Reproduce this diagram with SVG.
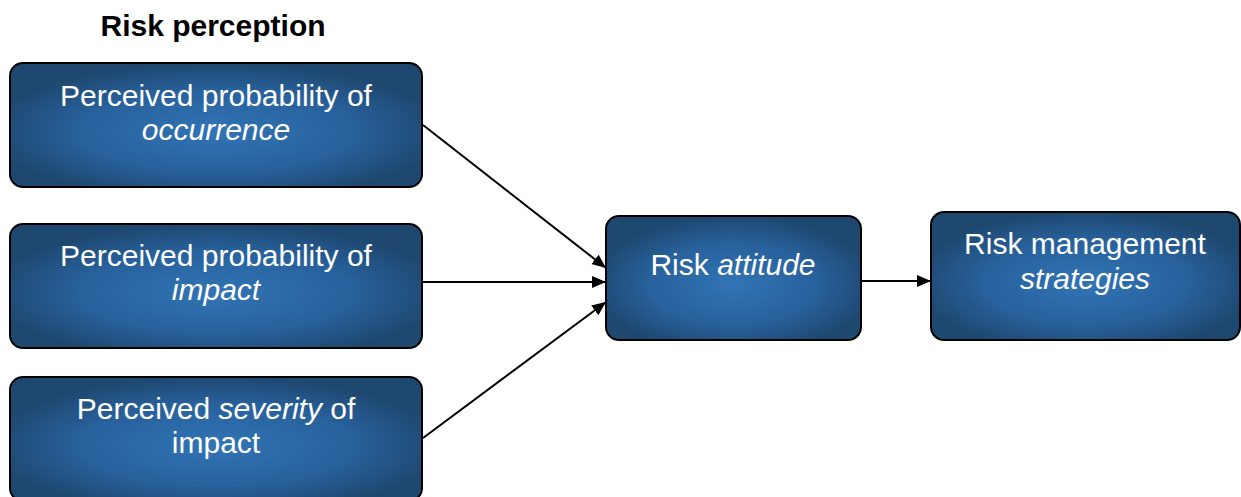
<svg xmlns="http://www.w3.org/2000/svg" width="1241" height="497" viewBox="0 0 1241 497">
<defs>
<radialGradient id="g" cx="0.5" cy="0.55" r="0.55">
<stop offset="0" stop-color="#3174B5"/>
<stop offset="0.6" stop-color="#28619C"/>
<stop offset="1" stop-color="#1E4870"/>
</radialGradient>
<marker id="ah" markerWidth="14" markerHeight="14" refX="14" refY="7" orient="auto" markerUnits="userSpaceOnUse" viewBox="0 0 14 14">
<path d="M0,1 L14,7 L0,13 z" fill="#000"/>
</marker>
<style>
.box{fill:url(#g);stroke:#000;stroke-width:2}
.t{font-family:"Liberation Sans",Arial,sans-serif;font-size:30px;fill:#fff;text-anchor:middle}
.i{font-style:italic}
.c{stroke:#000;stroke-width:2;fill:none;marker-end:url(#ah)}
.h{font-family:"Liberation Sans",Arial,sans-serif;font-size:30px;font-weight:bold;fill:#000;text-anchor:middle}
</style>
</defs>
<text class="h" x="213" y="36">Risk perception</text>
<g id="connectors">
<line class="c" x1="423" y1="125" x2="606" y2="268"/>
<line class="c" x1="423" y1="282" x2="606" y2="282"/>
<line class="c" x1="423" y1="438" x2="606" y2="302"/>
<line class="c" x1="862" y1="281" x2="931" y2="281"/>
</g>
<g id="n1">
<rect class="box" x="10" y="63" width="412" height="124" rx="13"/>
<text class="t" x="216" y="106">Perceived probability of</text>
<text class="t i" x="216" y="140">occurrence</text>
</g>
<g id="n2">
<rect class="box" x="10" y="224" width="412" height="124" rx="13"/>
<text class="t" x="216" y="266">Perceived probability of</text>
<text class="t i" x="216" y="300">impact</text>
</g>
<g id="n3">
<rect class="box" x="10" y="377" width="412" height="124" rx="13"/>
<text class="t" x="216" y="419">Perceived <tspan class="i">severity</tspan> of</text>
<text class="t" x="216" y="453">impact</text>
</g>
<g id="n4">
<rect class="box" x="606" y="216" width="255" height="124" rx="13"/>
<text class="t" x="733" y="275">Risk <tspan class="i">attitude</tspan></text>
</g>
<g id="n5">
<rect class="box" x="931" y="212" width="309" height="128" rx="13"/>
<text class="t" x="1085" y="254">Risk management</text>
<text class="t i" x="1085" y="289">strategies</text>
</g>
</svg>
